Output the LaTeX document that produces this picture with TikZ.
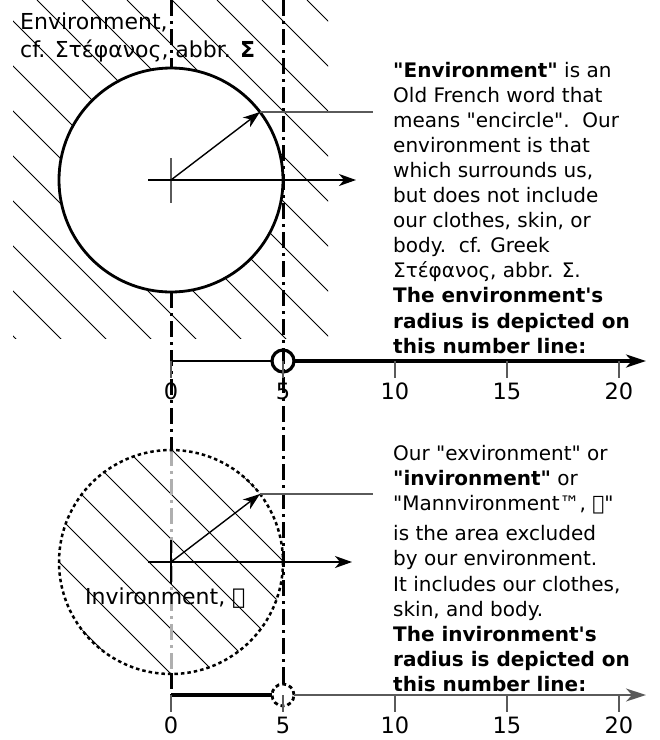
\documentclass[tikz,border=0pt]{standalone}
\usepackage{fontspec}
\setmainfont{DejaVu Sans}
\usetikzlibrary{arrows.meta, positioning, calc}
\definecolor{lineGray}{RGB}{90,90,90}
\definecolor{innerGray}{RGB}{175,175,175}
\newcommand{\dqt}{\textquotedbl}
\newcommand{\sqt}{\textquotesingle}

\begin{document}
\begin{tikzpicture}[
    x=1pt, y=-1pt,
    hatch/.style={line width=1pt},
    guide/.style={line width=3pt, dash pattern=on 16pt off 5pt on 3pt off 5pt},
    rim/.style={line width=2.8pt},
    ray/.style={line width=1.4pt, -{Stealth[length=17pt, width=12pt, inset=5pt]}},
    leader/.style={line width=1.3pt, lineGray},
    tick/.style={line width=1.3pt, lineGray},
    numarr/.style={-{Stealth[length=20pt, width=13pt, inset=6pt]}},
    numlab/.style={anchor=base, inner sep=0, font=\fontsize{22.5}{26}\selectfont},
    caption/.style={anchor=base west, inner sep=0, font=\fontsize{22}{28}\selectfont},
    note/.style={anchor=base west, inner sep=0, font=\fontsize{20}{25.1}\selectfont},
    ring/.style={circle, minimum size=22pt, inner sep=0, outer sep=0}
  ]
    \useasboundingbox (0,0) rectangle (660,740);
    \coordinate (envc) at (171,180);
    \coordinate (invc) at (171,562);
    \coordinate (envtip) at (260,112);
    \coordinate (invtip) at (260,494);

    \begin{scope}
      \clip (13,0) rectangle (328,338);
      \foreach \c in {-323,-278,...,307}
        \draw[hatch] (\c,0) -- ++(400,400);
    \end{scope}
    \fill[white] (envc) circle (112);
    \draw[rim] (envc) circle (112);

    \begin{scope}
      \clip (invc) circle (112);
      \foreach \c in {-593,-548,...,-188}
        \draw[hatch] (\c,0) -- ++(800,800);
    \end{scope}

    \draw[guide] (171,0) -- (171,68);
    \draw[guide] (171,292) -- (171,450);
    \draw[guide, innerGray] (171,450) -- (171,673);
    \draw[guide] (171,673) -- (171,695);
    \draw[guide] (283,0) -- (283,684);

    \draw[rim, line width=2.5pt, dash pattern=on 3.5pt off 3pt] (invc) circle (112);

    \draw[tick] (171,158) -- (171,203);
    \draw[ray] (envc) -- (envtip);
    \draw[leader] (envtip) -- (373,112);
    \draw[ray] (148,180) -- (356,180);

    \draw[line width=1.3pt] (171,540) -- (171,584);
    \draw[ray] (invc) -- (invtip);
    \draw[leader] (invtip) -- (373,494);
    \draw[ray] (148,562) -- (352,562);

    \node[caption] (envlabel) at (20,29) {Environment,};
    \node[caption] (envlabel2) at (20,57) {cf. Στέφανος, abbr. \textbf{Σ}};
    \node[caption] (invlabel) at (85,604) {Invironment, ᛗ};

    \node[note] (envnote) at (393,77) {\begin{tabular}[t]{@{}l@{}}
      \textbf{\dqt Environment\dqt} is an\\
      Old French word that\\
      means \dqt encircle\dqt .\ \ Our\\
      environment is that\\
      which surrounds us,\\
      but does not include\\
      our clothes, skin, or\\
      body.\ \ cf. Greek\\
      Στέφανος, abbr. Σ.\\
      \textbf{The environment\sqt s}\\
      \textbf{radius is depicted on}\\
      \textbf{this number line:}
    \end{tabular}};

    \node[note] (invnote) at (393,460.5) {\begin{tabular}[t]{@{}l@{}}
      Our \dqt exvironment\dqt{} or\\
      \textbf{\dqt invironment\dqt} or\\
      \dqt Mannvironment™, ᛗ\dqt\\[5pt]
      is the area excluded\\
      by our environment.\\
      It includes our clothes,\\
      skin, and body.\\
      \textbf{The invironment\sqt s}\\
      \textbf{radius is depicted on}\\
      \textbf{this number line:}
    \end{tabular}};

    \node[ring, draw, line width=3.2pt] (envring) at (283,361) {};
    \coordinate (envzero) at (171,361);
    \coordinate (envend) at (646,361);
    \draw[line width=1.4pt] (envzero) -- (envring.west);
    \draw[numarr, line width=3.2pt] (envring.east) -- (envend);

    \node[ring, draw, line width=2.8pt, dash pattern=on 4pt off 3pt] (invring) at (283,695) {};
    \coordinate (invzero) at (171,695);
    \coordinate (invend) at (646,695);
    \draw[line width=3.2pt] (invzero) -- (invring.west);
    \draw[numarr, line width=1.6pt, lineGray] (invring.east) -- (invend);

    \foreach \v in {0,5,10,15,20} {
      \draw[tick] (171+22.4*\v,361) -- ++(0,17);
      \node[numlab] (envnum\v) at (171+22.4*\v,399) {\v};
      \draw[tick] (171+22.4*\v,695) -- ++(0,17);
      \node[numlab] (invnum\v) at (171+22.4*\v,733) {\v};
    }
  \end{tikzpicture}
\end{document}
